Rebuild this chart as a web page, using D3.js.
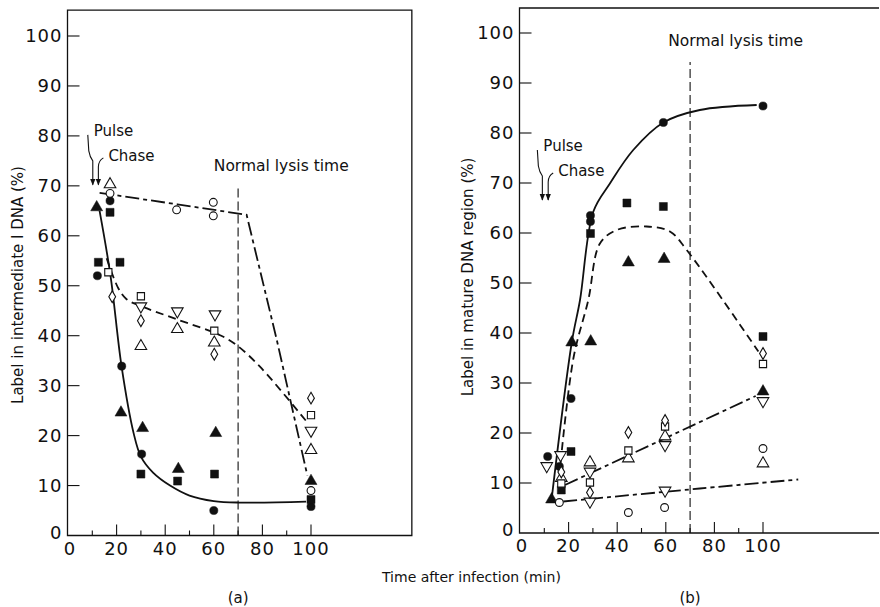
<!DOCTYPE html>
<html>
<head>
<meta charset="utf-8">
<script src="https://cdn.jsdelivr.net/npm/d3@7"></script>
<style>
  body { margin: 0; background: #fff; }
  svg { display: block; }
  text { font-family: "DejaVu Sans", sans-serif; fill: #111; }
</style>
</head>
<body>
<svg id="chart" width="880" height="607"></svg>
<script>
// Panel (a): label in intermediate I DNA (%)  -- [time, value]
const aFilledCircle = [[12.1, 52], [17.3, 67], [22.1, 33.9], [30.3, 16.3], [60, 5], [100, 5.8]];
const aFilledSquare = [[12.5, 54.7], [21.4, 54.7], [17.3, 64.7], [30, 12.3], [45.1, 10.9], [60.3, 12.3], [100, 7.2]];
const aFilledTriangle = [[11.8, 65.7], [21.8, 24.6], [30.7, 21.5], [45.4, 13.3], [60.8, 20.5], [100, 10.9]];
const aOpenCircle = [[17.3, 68.5], [44.7, 65.2], [59.8, 66.7], [59.8, 64], [100, 9]];
const aOpenTriangle = [[17.3, 70.3], [30, 37.9], [45, 41.3], [60.2, 38.6], [100, 17.1]];
const aInvTriangle = [[30, 45.9], [45, 44.9], [60.5, 44.3], [100, 21]];
const aOpenSquare = [[16.6, 52.7], [30, 47.9], [60.2, 41], [100, 24.1]];
const aDiamond = [[18.2, 47.8], [30, 43], [60.2, 36.3], [100, 27.5]];

// Panel (a) fitted curves
const aSolid = [[13, 65], [17.5, 52], [22, 34], [27, 20.5], [30, 15.8], [35, 12.6], [42, 10], [50, 8], [60, 6.9], [70, 6.6], [98, 6.8]];
const aDashed = [[15.9, 55.5], [20.7, 49.5], [24.1, 47.3], [29.6, 46], [44.7, 43.3], [62.6, 40.1], [69.4, 38.1], [79, 33.8], [98.2, 22.8]];
const aDashDot = [[13, 68.6], [45, 66.3], [73.5, 64.2], [86, 39], [98.5, 12]];

// Panel (b): label in mature DNA region (%)
const bFilledCircle = [[11.4, 15.3], [16.2, 13.3], [21, 26.9], [29, 63.5], [29, 62.3], [59, 82.1], [100, 85.4]];
const bFilledSquare = [[29, 59.9], [21, 16.3], [17, 8.6], [44, 66], [59, 65.3], [100, 39.3]];
const bFilledTriangle = [[13, 6.7], [21.3, 38.1], [29.1, 38.3], [44.6, 54.1], [59.3, 54.8], [100, 28.3]];
const bOpenCircle = [[16.2, 6.1], [44.6, 4.1], [59.5, 5.1], [100, 16.9]];
const bOpenTriangle = [[17, 11], [28.8, 14.1], [44.6, 14.9], [59.7, 19.3], [100, 13.9]];
const bInvTriangle = [[11, 13.4], [16.7, 15.6], [28.8, 12.3], [28.8, 6.3], [59.7, 17.6], [59.7, 8.5], [100, 26.4]];
const bOpenSquare = [[17, 9.9], [28.8, 10.1], [44.6, 16.5], [59.7, 21.3], [100, 33.8]];
const bDiamond = [[17, 12.2], [28.8, 8.1], [44.6, 20.1], [59.7, 22.5], [100, 35.9]];

// Panel (b) fitted curves
const bSolid = [[13, 6.7], [21.3, 38.1], [24.7, 46.6], [30.2, 64.3], [37, 69.9], [46.6, 76.6], [59, 82.1], [74, 84.6], [97.4, 85.6]];
const bDashed = [[16.7, 14], [22, 35], [28.1, 46.6], [32.9, 57.9], [39.8, 60.6], [52.1, 61.3], [61.7, 60.3], [68.6, 56.6], [98.1, 36.3]];
const bDashDot = [[18.5, 9.6], [97, 27.4]];
const bLower = [[17.8, 6.3], [74, 8.9], [114.5, 10.7]];

// Axis ticks
const yTicks = [0, 10, 20, 30, 40, 50, 60, 70, 80, 90, 100];
const xMajor = [0, 20, 40, 60, 80, 100];
const xMinor = [10, 30, 50, 70, 90];
const lysisTime = 70;

const svg = d3.select('#chart');

const panels = [
    {
        x: d3.scaleLinear().domain([0, 100]).range([68, 311]),
        y: d3.scaleLinear().domain([0, 100]).range([535.5, 36]),
        xEnd: 141.5, yTop: 105.2, closed: true,
        lysisTop: 69.8, lysisLabel: [60, 73],
        pulse: [10.2, 70.2], chase: [12.5, 70.2],
        series: {
            filledCircle: aFilledCircle, filledSquare: aFilledSquare, filledTriangle: aFilledTriangle,
            openCircle: aOpenCircle, openTriangle: aOpenTriangle, invTriangle: aInvTriangle,
            openSquare: aOpenSquare, diamond: aDiamond
        },
        curves: [
            { pts: aSolid, dash: null, smooth: true },
            { pts: aDashed, dash: '8,5', smooth: true },
            { pts: aDashDot, dash: '14,4,4,4', smooth: false }
        ],
        title: 'Label in intermediate I DNA (%)', titleX: 18, titleY: 285,
        tag: '(a)'
    },
    {
        x: d3.scaleLinear().domain([0, 100]).range([520, 763]),
        y: d3.scaleLinear().domain([0, 100]).range([533, 33]),
        xEnd: 148, yTop: 105, closed: false,
        lysisTop: 94.2, lysisLabel: [61, 97.5],
        pulse: [9.2, 66.6], chase: [11.6, 66.6],
        series: {
            filledCircle: bFilledCircle, filledSquare: bFilledSquare, filledTriangle: bFilledTriangle,
            openCircle: bOpenCircle, openTriangle: bOpenTriangle, invTriangle: bInvTriangle,
            openSquare: bOpenSquare, diamond: bDiamond
        },
        curves: [
            { pts: bSolid, dash: null, smooth: true },
            { pts: bDashed, dash: '8,5', smooth: true },
            { pts: bDashDot, dash: '14,4,4,4', smooth: false },
            { pts: bLower, dash: '14,4,4,4', smooth: true }
        ],
        title: 'Label in mature DNA region (%)', titleX: 468, titleY: 277,
        tag: '(b)'
    }
];

const shapes = {
    filledCircle: { type: d3.symbolCircle, size: 52, fill: true },
    filledSquare: { type: d3.symbolSquare, size: 64, fill: true },
    filledTriangle: { type: d3.symbolTriangle, size: 62, fill: true },
    openCircle: { type: d3.symbolCircle, size: 48, fill: false },
    openTriangle: { type: d3.symbolTriangle, size: 58, fill: false },
    invTriangle: { type: d3.symbolTriangle, size: 58, fill: false, rotate: 180 },
    openSquare: { type: d3.symbolSquare, size: 52, fill: false },
    diamond: { type: d3.symbolDiamond, size: 40, fill: false }
};

svg.append('defs').append('marker')
    .attr('id', 'arrow')
    .attr('viewBox', '0 0 10 10')
    .attr('refX', 9).attr('refY', 5)
    .attr('markerWidth', 7).attr('markerHeight', 7)
    .attr('markerUnits', 'userSpaceOnUse')
    .attr('orient', 'auto')
    .append('path').attr('d', 'M0,1 L10,5 L0,9 Z').attr('fill', '#111');

panels.forEach(p => {
    const g = svg.append('g');
    const x = p.x, y = p.y;

    // frame
    const x0 = x(0) - 0.5, x1 = p.closed ? x(p.xEnd) : 879, yb = y(0), yt = y(p.yTop);
    const framePath = p.closed
        ? `M${x0},${yt}H${x1}V${yb}H${x0}Z`
        : `M${x1},${yt}H${x0}V${yb}H${x1}`;
    g.append('path').attr('d', framePath)
        .attr('fill', 'none').attr('stroke', '#111').attr('stroke-width', 1.3);

    // y ticks (inward) and labels
    g.selectAll('.yt').data(yTicks.filter(d => d > 0)).enter().append('line')
        .attr('x1', x0).attr('x2', x0 + 12)
        .attr('y1', d => y(d)).attr('y2', d => y(d))
        .attr('stroke', '#111').attr('stroke-width', 1.1);
    g.selectAll('.yl').data(yTicks).enter().append('text')
        .attr('x', x0 - 5).attr('y', d => y(d) + 6 + (d === 0 ? -3 : 0))
        .attr('text-anchor', 'end')
        .style('font-size', '18px').style('letter-spacing', '1px')
        .text(d => d);

    // x ticks
    g.selectAll('.xM').data(xMajor.filter(d => d > 0)).enter().append('line')
        .attr('x1', d => x(d)).attr('x2', d => x(d))
        .attr('y1', yb).attr('y2', yb - 11)
        .attr('stroke', '#111').attr('stroke-width', 1.1);
    g.selectAll('.xm').data(xMinor).enter().append('line')
        .attr('x1', d => x(d)).attr('x2', d => x(d))
        .attr('y1', yb).attr('y2', yb - 5)
        .attr('stroke', '#111').attr('stroke-width', 1.1);
    g.selectAll('.xl').data(xMajor).enter().append('text')
        .attr('x', d => x(d) + (d === 0 ? 2 : 0)).attr('y', yb + 19)
        .attr('text-anchor', 'middle')
        .style('font-size', '18px').style('letter-spacing', '1px')
        .text(d => d);

    // normal lysis time marker
    g.append('line')
        .attr('x1', x(lysisTime)).attr('x2', x(lysisTime))
        .attr('y1', y(0)).attr('y2', y(p.lysisTop))
        .attr('stroke', '#111').attr('stroke-width', 1.1)
        .attr('stroke-dasharray', '9,4');
    g.append('text')
        .attr('x', x(p.lysisLabel[0])).attr('y', y(p.lysisLabel[1]))
        .style('font-size', '15.5px')
        .text('Normal lysis time');

    // pulse / chase arrows
    const px = x(p.pulse[0]), py = y(p.pulse[1]);
    const cx = x(p.chase[0]), cy = y(p.chase[1]);
    g.append('path')
        .attr('d', `M${px - 5},${py - 50} L${px - 4},${py - 34} Q${px - 3},${py - 28} ${px},${py - 24} L${px},${py}`)
        .attr('fill', 'none').attr('stroke', '#111').attr('stroke-width', 1.1)
        .attr('marker-end', 'url(#arrow)');
    g.append('path')
        .attr('d', `M${cx + 5},${cy - 27} Q${cx},${cy - 24} ${cx},${cy - 18} L${cx},${cy}`)
        .attr('fill', 'none').attr('stroke', '#111').attr('stroke-width', 1.1)
        .attr('marker-end', 'url(#arrow)');
    g.append('text').attr('x', px + 1).attr('y', py - 49)
        .style('font-size', '15px').text('Pulse');
    g.append('text').attr('x', cx + 10).attr('y', py - 24)
        .style('font-size', '15px').text('Chase');

    // fitted curves
    p.curves.forEach(c => {
        const line = d3.line()
            .x(d => x(d[0])).y(d => y(d[1]))
            .curve(c.smooth ? d3.curveCatmullRom.alpha(0.5) : d3.curveLinear);
        g.append('path').datum(c.pts)
            .attr('d', line)
            .attr('fill', 'none').attr('stroke', '#111').attr('stroke-width', 1.8)
            .attr('stroke-dasharray', c.dash);
    });

    // points
    Object.entries(p.series).forEach(([key, pts]) => {
        const s = shapes[key];
        const sym = d3.symbol().type(s.type).size(s.size);
        g.selectAll('.pt-' + key).data(pts).enter().append('path')
            .attr('d', sym)
            .attr('transform', d => `translate(${x(d[0])},${y(d[1])})` + (s.rotate ? ` rotate(${s.rotate})` : ''))
            .attr('fill', s.fill ? '#111' : '#fff')
            .attr('stroke', '#111').attr('stroke-width', s.fill ? 0.5 : 1.1);
    });

    // axis title
    g.append('text')
        .attr('transform', `translate(${p.titleX},${p.titleY}) rotate(-90)`)
        .attr('text-anchor', 'middle').attr('dy', '0.35em')
        .style('font-size', '15px')
        .text(p.title);

    g.append('text')
        .attr('x', x(70)).attr('y', 603)
        .attr('text-anchor', 'middle')
        .style('font-size', '15px')
        .text(p.tag);
});

svg.append('text')
    .attr('x', 382).attr('y', 582)
    .style('font-size', '14px')
    .text('Time after infection (min)');
</script>
</body>
</html>
